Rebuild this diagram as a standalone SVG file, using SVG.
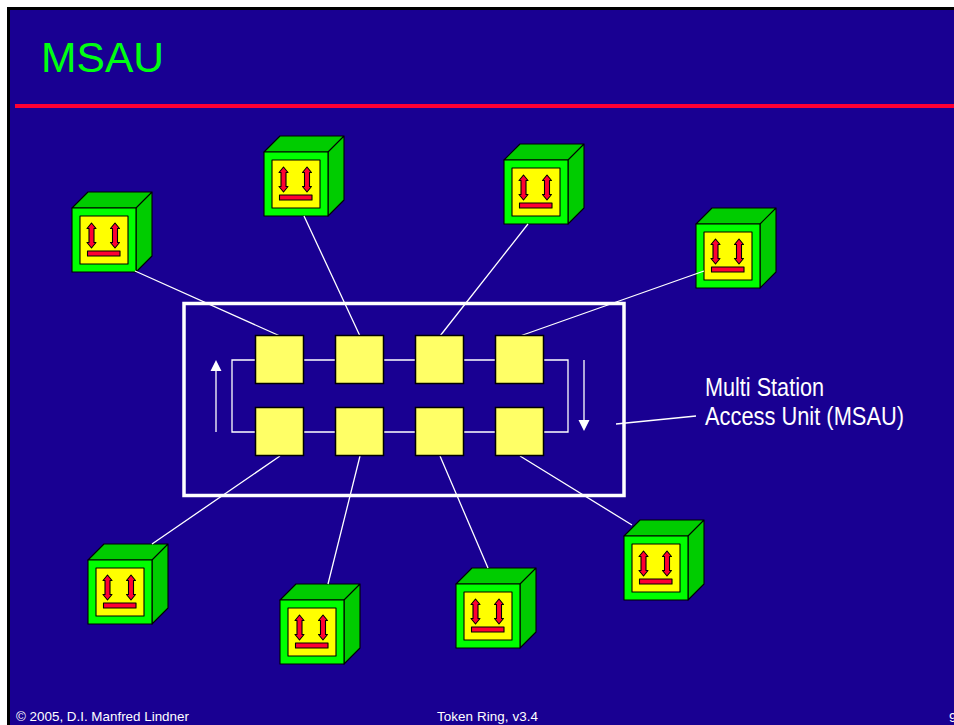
<svg xmlns="http://www.w3.org/2000/svg" width="954" height="725" viewBox="0 0 954 725">
<style>
text{font-family:"Liberation Sans",Arial,sans-serif}
.c{stroke:#fff;stroke-width:1.3;fill:none}
.k{stroke:#000;stroke-width:1.1;stroke-linejoin:round}
.p{fill:#ffff66;stroke:#000;stroke-width:1.5}
.f{fill:#fff;font-size:13.4px}
.l{fill:#fff;font-size:25px}
</style>
<defs>
<g id="cube">
<path class="k" fill="#00cc00" d="M0 0L16-16H80L64 0ZM64 0L80-16V48L64 64Z"/>
<rect class="k" fill="#00ff00" width="64" height="64"/>
<rect class="k" fill="#ffff00" x="8" y="8" width="48" height="48"/>
<path class="k" fill="#ff0033" d="M19.500 15L24 20.500H22V34.500H24L19.500 40L15 34.500H17V20.500H15ZM43 15L47.500 20.500H45.500V34.500H47.500L43 40L38.500 34.500H40.500V20.500H38.500ZM15.500 43H48V48H15.500Z"/>
</g>
</defs>
<rect width="954" height="725" fill="#fff"/>
<rect x="8.500" y="8.500" width="960" height="730" fill="#190092" stroke="#000" stroke-width="3"/>
<rect x="15" y="104" width="939" height="4" fill="#ff0033"/>
<text x="41" y="71.500" font-size="42.600" fill="#00ff11">MSAU</text>
<g id="station1"><use href="#cube" x="72" y="208"/></g>
<g id="station2"><use href="#cube" x="264" y="152"/></g>
<g id="station3"><use href="#cube" x="504" y="160"/></g>
<g id="station4"><use href="#cube" x="696" y="224"/></g>
<g id="station5"><use href="#cube" x="88" y="560"/></g>
<g id="station6"><use href="#cube" x="280" y="600"/></g>
<g id="station7"><use href="#cube" x="456" y="584"/></g>
<g id="station8"><use href="#cube" x="624" y="536"/></g>
<g id="connectors">
<path class="c" d="M135 271L280 336M304 216L360 336M528 224L440 336M704 271L520 336M280 456L152 544M360 456L328 584M440 456L488 568M520 456L632 525M616 424L696 416"/>
<path class="c" d="M256 360H232V432H256M304 360H336M384 360H416M464 360H496M544 360H568V432H544M304 432H336M384 432H416M464 432H496"/>
<path class="c" d="M216 432V370M584 360V422"/>
<path fill="#fff" d="M216 360L221.500 371H210.500ZM584 431L578.500 420H589.500Z"/>
</g>
<rect id="msau" x="184" y="303.500" width="440" height="192" fill="none" stroke="#fff" stroke-width="3.500"/>
<g id="port1"><rect class="p" x="255.500" y="335.500" width="48" height="48"/></g>
<g id="port2"><rect class="p" x="335.500" y="335.500" width="48" height="48"/></g>
<g id="port3"><rect class="p" x="415.500" y="335.500" width="48" height="48"/></g>
<g id="port4"><rect class="p" x="495.500" y="335.500" width="48" height="48"/></g>
<g id="port5"><rect class="p" x="255.500" y="407.500" width="48" height="48"/></g>
<g id="port6"><rect class="p" x="335.500" y="407.500" width="48" height="48"/></g>
<g id="port7"><rect class="p" x="415.500" y="407.500" width="48" height="48"/></g>
<g id="port8"><rect class="p" x="495.500" y="407.500" width="48" height="48"/></g>
<g id="label"><text class="l" x="705" y="396" textLength="119" lengthAdjust="spacingAndGlyphs">Multi Station</text><text class="l" x="705" y="425" textLength="199" lengthAdjust="spacingAndGlyphs">Access Unit (MSAU)</text></g>
<text class="f" x="16" y="721">© 2005, D.I. Manfred Lindner</text>
<text class="f" x="437" y="721" textLength="101">Token Ring, v3.4</text>
<text class="f" x="949" y="721.500">9</text>
</svg>
